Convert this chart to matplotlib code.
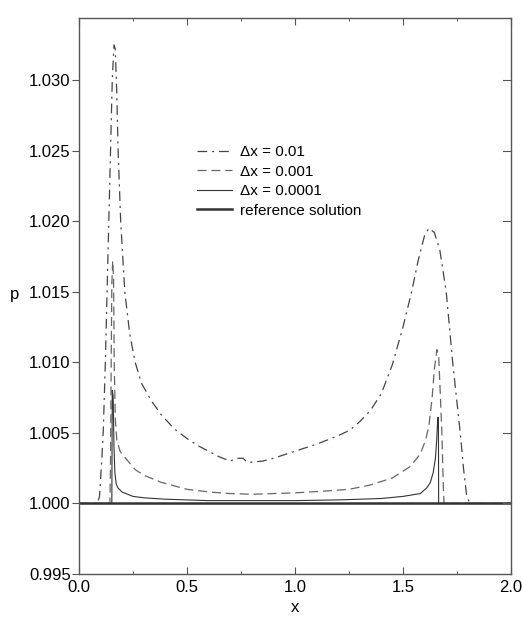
import numpy as np
import matplotlib
matplotlib.use('Agg')
import matplotlib.pyplot as plt
from matplotlib.ticker import MultipleLocator, FormatStrFormatter

plt.rcParams['font.family'] = ['Liberation Sans', 'DejaVu Sans']
plt.rcParams['lines.scale_dashes'] = False

# dx = 0.01 (dash-dot)
x_01 = [0.0, 0.085, 0.095, 0.105, 0.112, 0.122, 0.130, 0.138, 0.146, 0.154, 0.162,
        0.168, 0.175, 0.181, 0.193, 0.212, 0.235, 0.260, 0.290, 0.334, 0.380, 0.440,
        0.500, 0.550, 0.600, 0.650, 0.700, 0.730, 0.760, 0.780, 0.850, 0.900, 1.000,
        1.100, 1.200, 1.255, 1.300, 1.350, 1.400, 1.450, 1.500, 1.540, 1.570, 1.600,
        1.620, 1.645, 1.670, 1.700, 1.730, 1.765, 1.780, 1.795, 1.810, 2.0]
p_01 = [1.000, 1.000, 1.0005, 1.003, 1.005, 1.010, 1.015, 1.020, 1.025, 1.030, 1.0325,
        1.0322, 1.029, 1.025, 1.020, 1.015, 1.012, 1.010, 1.0085, 1.0073, 1.0063, 1.0053,
        1.0046, 1.0041, 1.0037, 1.0033, 1.0030, 1.0032, 1.0032, 1.0029, 1.0030, 1.0032, 1.0037,
        1.0042, 1.0048, 1.0052, 1.0058, 1.0066, 1.0078, 1.0098, 1.0125, 1.0150, 1.0172, 1.0190,
        1.0195, 1.0192, 1.0180, 1.0150, 1.0100, 1.0050, 1.0025, 1.0005, 1.000, 1.000]

# dx = 0.001 (dashed)
x_001 = [0.0, 0.143, 0.146, 0.149, 0.152, 0.156, 0.160, 0.163, 0.168, 0.175, 0.190,
         0.210, 0.227, 0.260, 0.300, 0.380, 0.500, 0.610, 0.700, 0.800, 0.900, 1.000,
         1.160, 1.250, 1.347, 1.450, 1.532, 1.580, 1.605, 1.620, 1.635, 1.645, 1.657,
         1.665, 1.672, 1.680, 1.687, 1.690, 2.0]
p_001 = [1.000, 1.000, 1.003, 1.010, 1.0155, 1.0172, 1.016, 1.010, 1.006, 1.0045, 1.0037,
         1.0033, 1.0030, 1.0024, 1.0020, 1.0015, 1.0010, 1.0008, 1.0007, 1.00065, 1.0007, 1.00075,
         1.0009, 1.0010, 1.0013, 1.0018, 1.0026, 1.0035, 1.0045, 1.0055, 1.0075, 1.0095, 1.0109,
         1.0105, 1.0080, 1.0050, 1.0010, 1.000, 1.000]

# dx = 0.0001 (thin solid)
x_0001 = [0.0, 0.152, 0.154, 0.158, 0.162, 0.166, 0.172, 0.180, 0.200, 0.250, 0.300,
          0.400, 0.600, 1.000, 1.200, 1.400, 1.500, 1.580, 1.610, 1.627, 1.640, 1.650,
          1.656, 1.661, 1.664, 1.665, 2.0]
p_0001 = [1.000, 1.000, 1.0080, 1.0076, 1.0040, 1.0022, 1.0014, 1.0011, 1.0008, 1.0005, 1.0004,
          1.0003, 1.0002, 1.0002, 1.00025, 1.00035, 1.0005, 1.0007, 1.0011, 1.0015, 1.0022, 1.0032,
          1.0045, 1.0061, 1.0061, 1.000, 1.000]

# reference solution
x_ref = [0.0, 2.0]
p_ref = [1.000, 1.000]

fig = plt.figure(figsize=(5.22, 6.17), dpi=100)
ax = fig.add_axes([79/522, 43/617, 432/522, 556/617])

ax.plot(x_01, p_01, color='#444444', lw=0.9, dashes=(7, 3.5, 1.5, 3.5), label='\u0394x = 0.01')
ax.plot(x_001, p_001, color='#666666', lw=0.9, dashes=(6.5, 3.5), label='\u0394x = 0.001')
ax.plot(x_0001, p_0001, color='#333333', lw=0.8, label='\u0394x = 0.0001')
ax.plot(x_ref, p_ref, color='#333333', lw=1.8, label='reference solution')

ax.set_xlim(0, 2.0)
ax.set_ylim(0.995, 1.0344)

ax.xaxis.set_major_locator(MultipleLocator(0.5))
ax.xaxis.set_minor_locator(MultipleLocator(0.25))
ax.xaxis.set_major_formatter(FormatStrFormatter('%.1f'))
ax.yaxis.set_major_locator(MultipleLocator(0.005))
ax.yaxis.set_major_formatter(FormatStrFormatter('%.3f'))

ax.tick_params(axis='x', which='major', direction='in', top=True, length=5, width=0.8,
               labelsize=12, pad=4, color='#555555')
ax.tick_params(axis='x', which='minor', direction='in', top=True, length=2.5, width=0.7,
               color='#555555')
ax.tick_params(axis='y', which='major', direction='out', left=True, right=False, length=5,
               width=0.8, labelsize=12, pad=1, color='#555555')
# right side ticks point inward
for yv in np.arange(1.000, 1.031, 0.005):
    ax.plot([1.965, 2.0], [yv, yv], color='#555555', lw=0.8, clip_on=False)

for s in ax.spines.values():
    s.set_color('#555555')
    s.set_linewidth(1.0)

ax.set_xlabel('x', fontsize=12, labelpad=4)
ax.set_ylabel('p', fontsize=12, rotation=0)
ax.yaxis.set_label_coords(-0.15, 0.49)

ax.legend(loc='upper left', bbox_to_anchor=(0.255, 0.785), frameon=False, fontsize=11,
          handlelength=2.3, handletextpad=0.5, labelspacing=0.36, borderpad=0)

fig.savefig('out.png', dpi=100)
